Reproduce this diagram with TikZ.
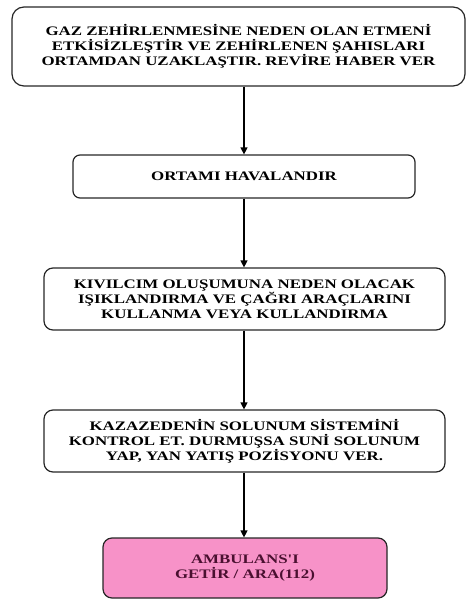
\documentclass[tikz,border=0pt]{standalone}
\usepackage{fontspec}
\setmainfont{Liberation Serif}
\newfontfamily\boxfont[FakeStretch=1.3]{Liberation Serif}
\usetikzlibrary{arrows.meta}
\definecolor{pinkfill}{HTML}{F792C8}
\definecolor{pinktext}{HTML}{4A1030}
\begin{document}
\begin{tikzpicture}[x=1pt,y=-1pt,
  stepbox/.style={draw=black!85, line width=1.2pt, align=center, inner sep=0pt,
    font=\boxfont\bfseries\fontsize{13}{14.8}\selectfont},
  flow/.style={line width=1.2pt, -{Triangle[length=7pt,width=7pt]}}]
\useasboundingbox (0,0) rectangle (466,599);
\node[stepbox, rounded corners=12pt, minimum width=453pt, minimum height=79pt] (b1) at (238.5,46.5)
  {GAZ ZEHİRLENMESİNE NEDEN OLAN ETMENİ\\ETKİSİZLEŞTİR VE ZEHİRLENEN ŞAHISLARI\\ORTAMDAN UZAKLAŞTIR. REVİRE HABER VER};
\node[stepbox, rounded corners=7pt, minimum width=342pt, minimum height=43pt] (b2) at (244,176.5)
  {ORTAMI HAVALANDIR};
\node[stepbox, rounded corners=9pt, minimum width=401pt, minimum height=62pt] (b3) at (244.5,299)
  {KIVILCIM OLUŞUMUNA NEDEN OLACAK\\IŞIKLANDIRMA VE ÇAĞRI ARAÇLARINI\\KULLANMA VEYA KULLANDIRMA};
\node[stepbox, rounded corners=9pt, minimum width=401pt, minimum height=62pt] (b4) at (244.5,441)
  {KAZAZEDENİN SOLUNUM SİSTEMİNİ\\KONTROL ET. DURMUŞSA SUNİ SOLUNUM\\YAP, YAN YATIŞ POZİSYONU VER.};
\node[stepbox, rounded corners=9pt, fill=pinkfill, text=pinktext, minimum width=284pt, minimum height=60pt] (b5) at (245,568)
  {AMBULANS'I\\GETİR / ARA(112)};
\draw[flow] (b1.south -| b2.north) -- (b2.north);
\draw[flow] (b2.south) -- (b3.north -| b2.south);
\draw[flow] (b3.south -| b2.south) -- (b4.north -| b2.south);
\draw[flow] (b4.south -| b2.south) -- (b5.north -| b2.south);
\end{tikzpicture}
\end{document}
